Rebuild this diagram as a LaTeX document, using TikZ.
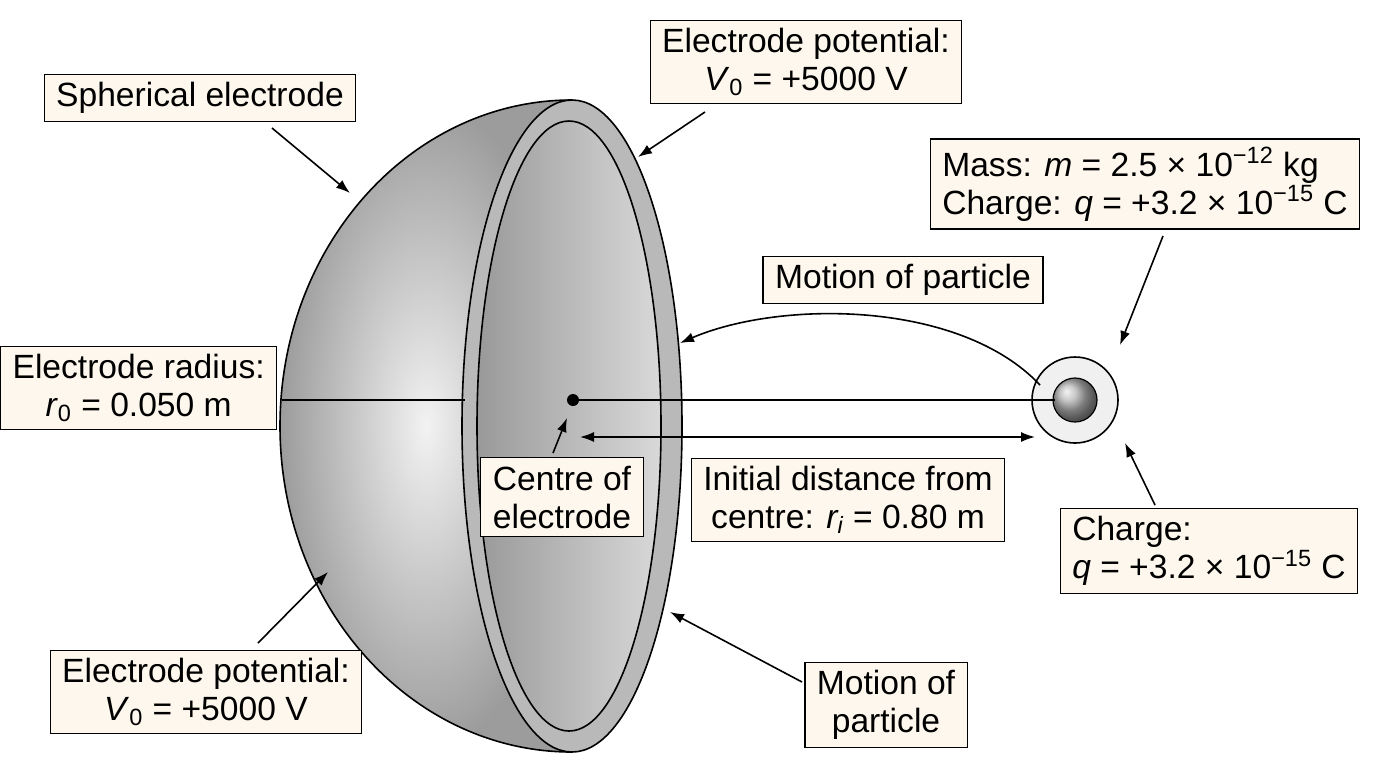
\documentclass[tikz,border=0pt]{standalone}
\usepackage{fontspec}
\setmainfont{Liberation Sans}
\usetikzlibrary{arrows.meta}
\newcommand{\sbs}[1]{\textsubscript{#1}}
\newcommand{\sps}[1]{\textsuperscript{#1}}
\begin{document}
\begin{tikzpicture}[x=0.5pt,y=-0.5pt,
  lbl/.style={draw=black,line width=0.6pt,fill=yellow!8!orange!6!white,inner xsep=6pt,inner ysep=4pt,font=\fontsize{16.8}{19}\selectfont,align=center},
  arr/.style={-{Latex[length=7pt,width=5pt]},line width=0.8pt},
  ln/.style={line width=0.8pt}]
\useasboundingbox (0,0) rectangle (1376,768);
% dome
\fill[inner color=gray!10,outer color=gray!78]
  (572,100) arc[start angle=270,end angle=90,x radius=292,y radius=326] -- cycle;
\draw[ln] (572,100) arc[start angle=270,end angle=90,x radius=292,y radius=326];
% rim
\draw[ln,fill=gray!55] (572,426) ellipse[x radius=110,y radius=326];
\shade[left color=gray!80,right color=gray!30,draw=black,line width=0.8pt] (569,426) ellipse[x radius=92,y radius=305];
\draw[ln] (282,400) -- (465,400);
% particle
\node[circle,draw=black,line width=0.8pt,fill=gray!12,minimum size=43pt] (pout) at (1075,400) {};
\shade[ball color=gray!60] (1075,400) circle (22);
\draw[line width=0.6pt] (1075,400) circle (22);
\node[circle,fill=black,inner sep=0pt,minimum size=6pt] (ctr) at (573,400) {};
\coordinate (pc) at (1055,400);
\draw[ln] (ctr) -- (pc);
\coordinate (d1) at (580,437); \coordinate (d2) at (1035,437);
\draw[{Latex[length=7pt,width=5pt]}-{Latex[length=7pt,width=5pt]},line width=0.8pt] (d1) -- (d2);
\coordinate (m1) at (1040,385); \coordinate (m2) at (680,343);
\draw[arr] (m1) .. controls (960,300) and (780,300) .. (m2);
% labels
\node[lbl] (se) at (200,98) {Spherical electrode};
\node[lbl] (ept) at (806,62) {Electrode potential:\\\textit{V}\sbs{0} = +5000 V};
\node[lbl,align=left] (mass) at (1145,184) {Mass: \textit{m} = 2.5 × 10\sps{−12} kg\\Charge: \textit{q} = +3.2 × 10\sps{−15} C};
\node[lbl] (mot1) at (903,280) {Motion of particle};
\node[lbl,anchor=west] (rad) at (0,388) {Electrode radius:\\\textit{r}\sbs{0} = 0.050 m};
\node[lbl] (cen) at (562,497) {Centre of\\electrode};
\node[lbl] (dist) at (848,500) {Initial distance from\\centre: \textit{r\sbs{i}} = 0.80 m};
\node[lbl,align=left] (chg) at (1209,551) {Charge:\\\textit{q} = +3.2 × 10\sps{−15} C};
\node[lbl] (epb) at (206,692) {Electrode potential:\\\textit{V}\sbs{0} = +5000 V};
\node[lbl] (mot2) at (886,705) {Motion of\\particle};
% arrows
\coordinate (a1) at (350,193); \draw[arr] (272,128) -- (a1);
\coordinate (a2) at (638,157); \draw[arr] (705,112) -- (a2);
\coordinate (a3) at (1120,345); \draw[arr] (1163,236) -- (a3);
\coordinate (a4) at (567,418); \draw[arr] (553,453) -- (a4);
\coordinate (a5) at (1125,443); \draw[arr] (1155,505) -- (a5);
\coordinate (a6) at (328,572); \draw[arr] (258,643) -- (a6);
\coordinate (a7) at (670,612); \draw[arr] (802,682) -- (a7);
\end{tikzpicture}
\end{document}
